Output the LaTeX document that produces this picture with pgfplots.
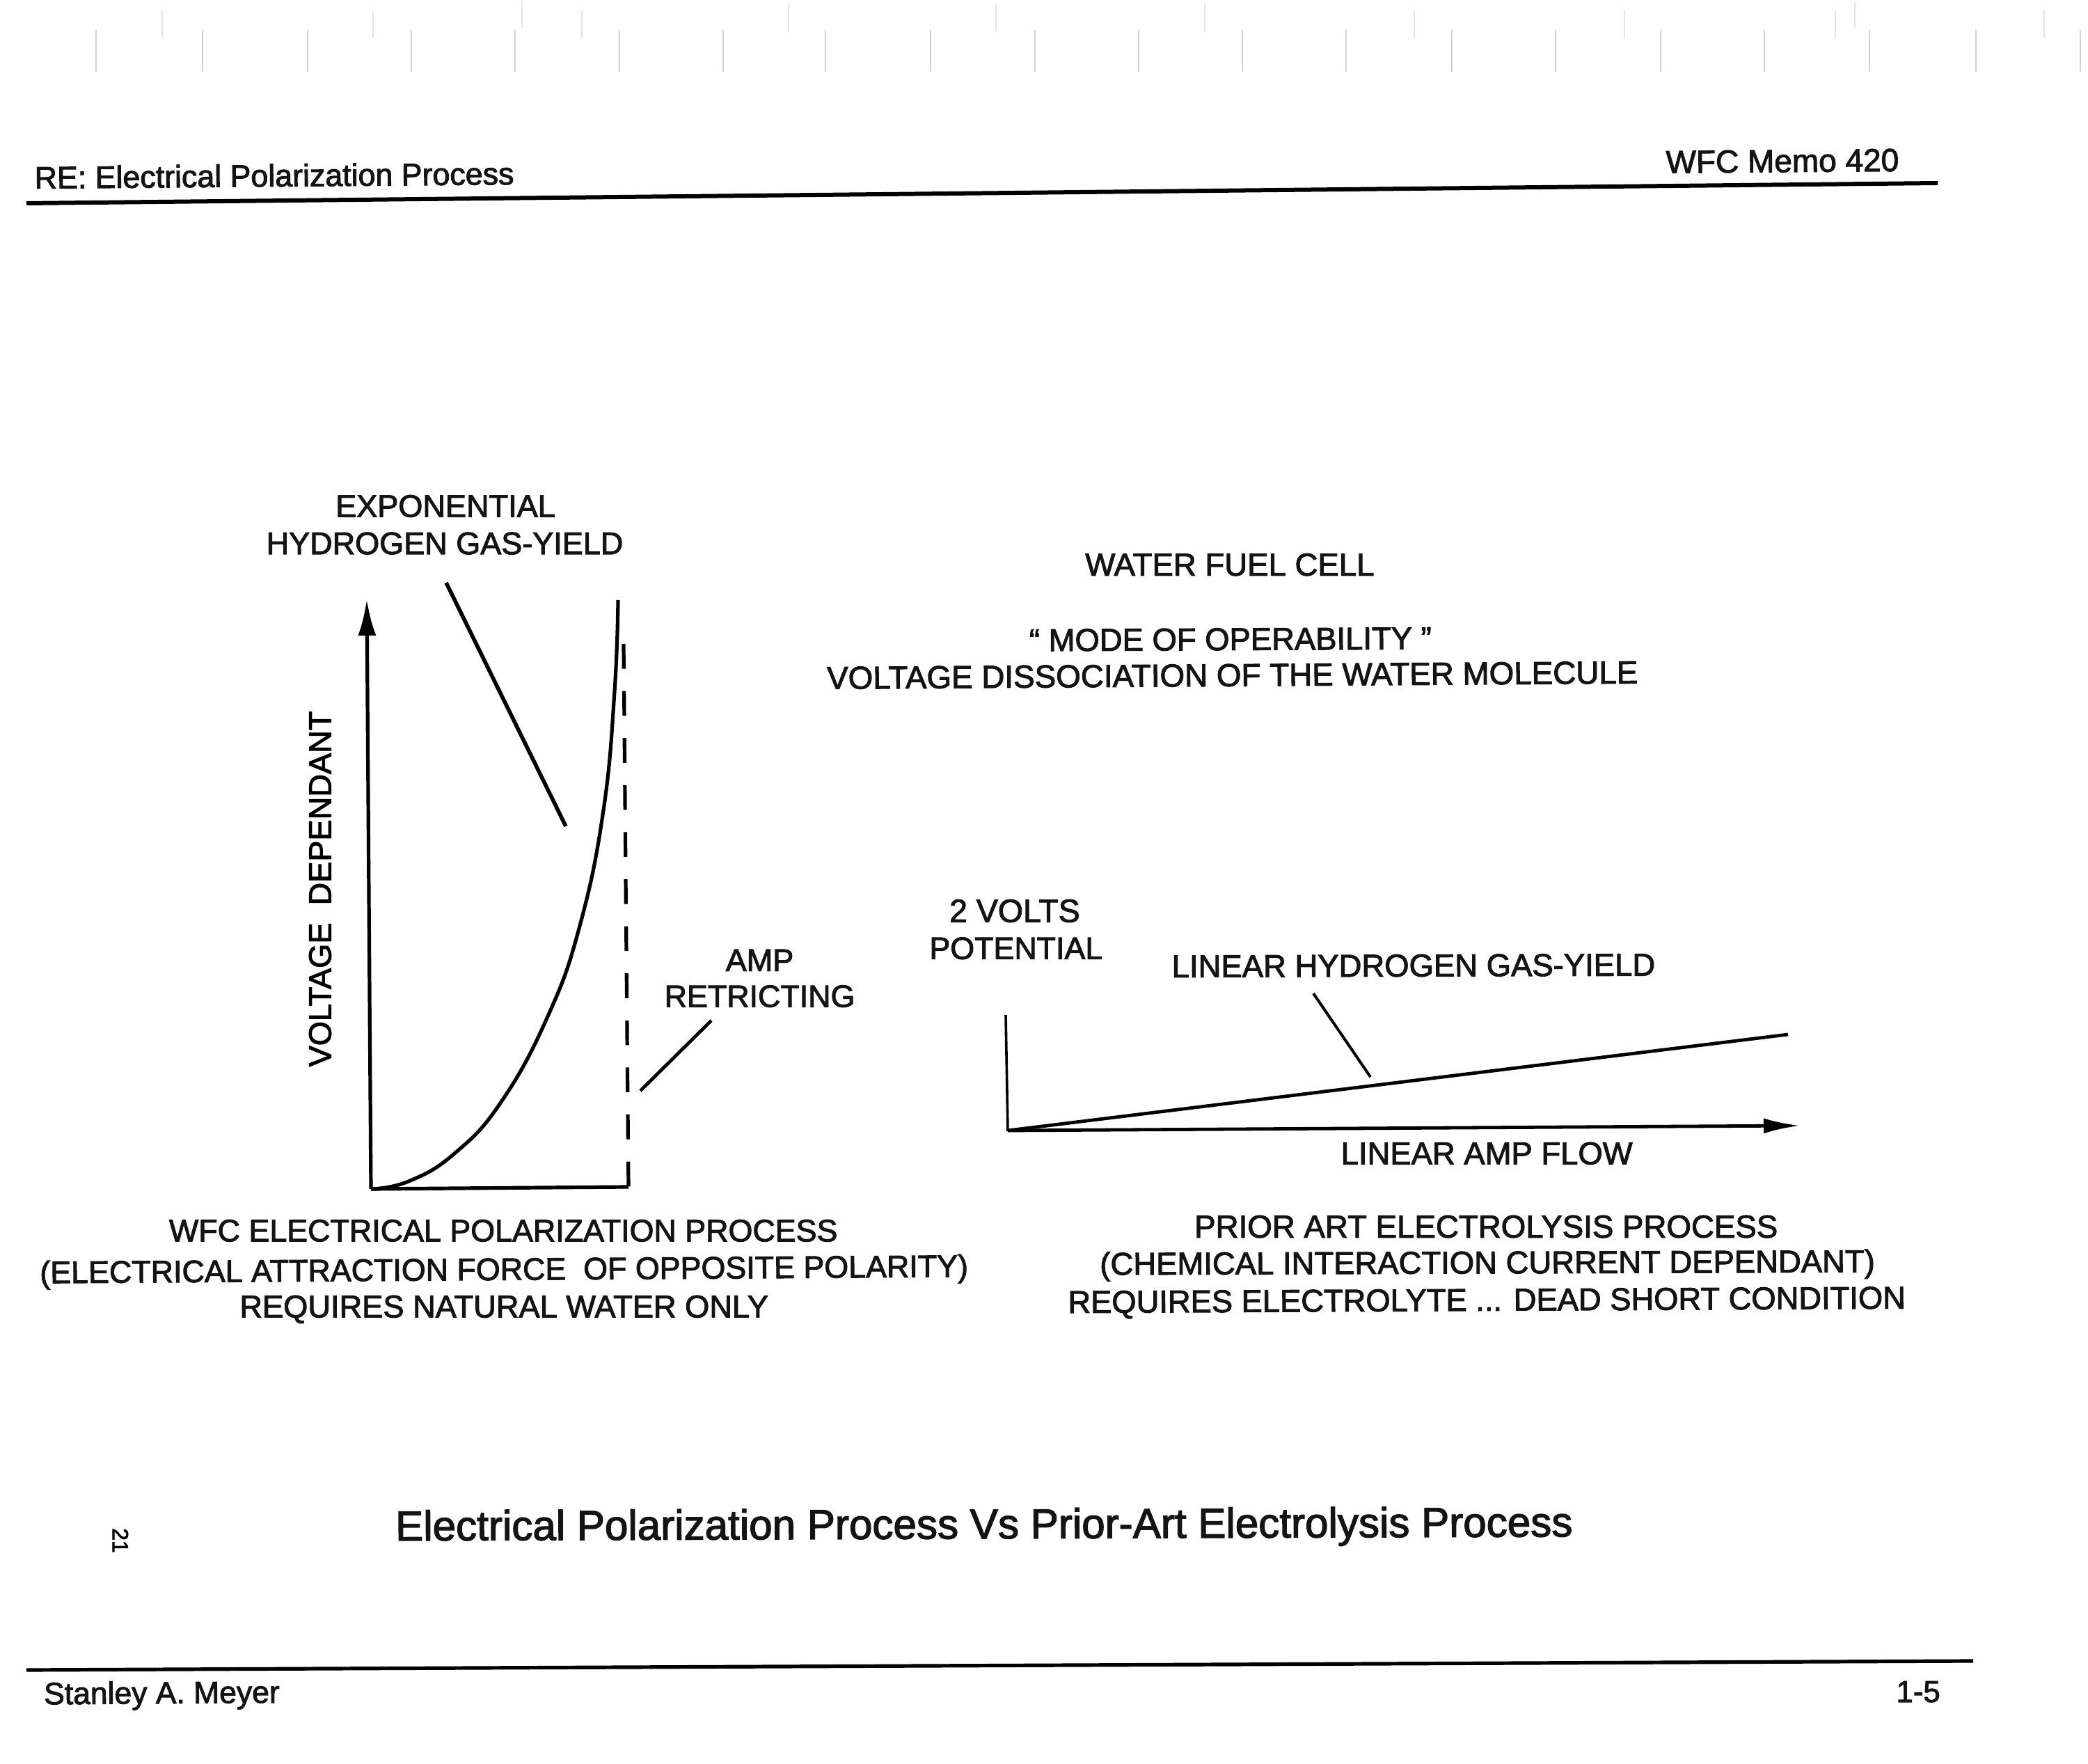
\documentclass[border=0pt]{standalone}
\usepackage{fontspec}
\setmainfont{Liberation Sans}[FakeBold=2.2]
\usepackage{graphicx}
\usepackage{pgfplots}
\pgfplotsset{compat=1.18}
\usetikzlibrary{arrows.meta}
\newcommand{\tx}[5]{%
  \node[inner sep=0pt,outer sep=0pt,anchor=center,rotate=#4,text=black!92] at (axis cs:{(#1+#2)/2*1.9133},{(#3+2)*1.9133}) {\resizebox{\dimexpr 0.478325\dimexpr #2pt-#1pt\relax\relax}{!}{\fontsize{12}{14}\selectfont\vphantom{(}#5}};%
}
\begin{document}
\begin{tikzpicture}
\begin{axis}[
  scale only axis, width=750pt, height=633.5pt,
  xmin=0, xmax=3000, ymin=0, ymax=2534, y dir=reverse,
  hide axis, clip=false, unbounded coords=jump,
  every axis plot/.append style={black, line cap=butt, line join=round}
]
\path (axis cs:0,0) rectangle (axis cs:3000,2534);
% faint scan marks at the top
\addplot[gray!35, line width=0.3pt] coordinates {
 (138,43)(138,103) (nan,nan) (291,43)(291,103) (nan,nan) (442,43)(442,103) (nan,nan)
 (591,43)(591,103) (nan,nan) (740,43)(740,103) (nan,nan) (890,43)(890,103) (nan,nan)
 (1039,43)(1039,103) (nan,nan) (1186,43)(1186,103) (nan,nan) (1337,43)(1337,103) (nan,nan)
 (1487,43)(1487,103) (nan,nan) (1636,43)(1636,103) (nan,nan) (1785,43)(1785,103) (nan,nan)
 (1934,43)(1934,103) (nan,nan) (2086,43)(2086,103) (nan,nan) (2235,43)(2235,103) (nan,nan)
 (2386,43)(2386,103) (nan,nan) (2535,43)(2535,103) (nan,nan) (2686,43)(2686,103) (nan,nan)
 (2839,43)(2839,103) (nan,nan) (2989,43)(2989,103)
};
\addplot[gray!20, line width=0.3pt] coordinates {
 (233,15)(233,55) (nan,nan) (536,15)(536,55) (nan,nan) (750,2)(750,40) (nan,nan)
 (836,15)(836,55) (nan,nan) (1133,5)(1133,45) (nan,nan) (1431,5)(1431,45) (nan,nan)
 (1731,5)(1731,45) (nan,nan) (2032,15)(2032,55) (nan,nan) (2334,15)(2334,55) (nan,nan)
 (2637,15)(2637,55) (nan,nan) (2665,2)(2665,40) (nan,nan) (2937,15)(2937,55)
};
% page rules
\addplot[line width=1.5pt] coordinates {(38,292)(2784,263)};
\addplot[line width=1.3pt] coordinates {(38,2399)(2835,2386)};
% left diagram
\addplot[line width=1.3pt, -{Latex[length=13pt,width=6.5pt]}] coordinates {(533,1708)(527,861)};
\addplot[line width=1.3pt] coordinates {(533,1708)(903,1705)};
\addplot[line width=1.3pt, dash pattern=on 8.9pt off 8pt] coordinates {(896,925)(903,1705)};
\addplot[line width=1.3pt, smooth, tension=0.75] coordinates {
 (533,1708)(587,1697)(653,1657)(720,1583)(787,1460)(833,1330)(867,1164)(883,993)(888,862)};
\addplot[line width=1.4pt] coordinates {(641,837)(813,1187)};
\addplot[line width=1.2pt] coordinates {(1022,1466)(920,1567)};
% right diagram
\addplot[line width=0.9pt] coordinates {(1445,1458)(1448,1625)};
\addplot[line width=1.2pt, -{Latex[length=13pt,width=5.5pt]}] coordinates {(1448,1624)(2586,1617)};
\addplot[line width=1.2pt] coordinates {(1448,1624)(2569,1486)};
\addplot[line width=1.0pt] coordinates {(1887,1427)(1969,1547)};
% texts
\tx{26}{386}{132}{0.5}{RE: Electrical Polarization Process}
\tx{1251}{1426}{121}{0.5}{WFC Memo 420}
\tx{252}{417}{380}{0}{EXPONENTIAL}
\tx{200}{468}{408}{0}{HYDROGEN GAS-YIELD}
\tx{815}{1032}{424}{0}{WATER FUEL CELL}
\tx{773}{1075}{480}{0.3}{“ MODE OF OPERABILITY ”}
\tx{621}{1230}{507}{0.4}{VOLTAGE DISSOCIATION OF THE WATER MOLECULE}
\tx{713}{811}{684}{0}{2 VOLTS}
\tx{698}{828}{712}{0}{POTENTIAL}
\tx{880}{1243}{725}{0.2}{LINEAR HYDROGEN GAS-YIELD}
\tx{545}{596}{721}{0}{AMP}
\tx{499}{642}{748}{0}{RETRICTING}
\tx{1007}{1226}{866}{0}{LINEAR AMP FLOW}
\tx{127}{629}{924}{0}{WFC ELECTRICAL POLARIZATION PROCESS}
\tx{30}{727}{953}{0.4}{(ELECTRICAL ATTRACTION FORCE\ \ OF OPPOSITE POLARITY)}
\tx{180}{577}{981}{0}{REQUIRES NATURAL WATER ONLY}
\tx{897}{1335}{921}{0}{PRIOR ART ELECTROLYSIS PROCESS}
\tx{826}{1408}{948}{0.2}{(CHEMICAL INTERACTION CURRENT DEPENDANT)}
\tx{802}{1431}{976}{0.3}{REQUIRES ELECTROLYTE ... DEAD SHORT CONDITION}
\tx{297}{1181}{1145}{0.2}{Electrical Polarization Process Vs Prior-Art Electrolysis Process}
\tx{33}{210}{1271}{0.4}{Stanley A. Meyer}
\tx{1424}{1457}{1270}{0}{1-5}
\node[rotate=-90,inner sep=0pt,font=\fontsize{8}{9}\selectfont] at (axis cs:173,2213) {21};
\node[rotate=90,inner sep=0pt] at (axis cs:460,1277) {\resizebox{127.7pt}{!}{\fontsize{12}{14}\selectfont VOLTAGE\ \ DEPENDANT}};
\end{axis}
\end{tikzpicture}
\end{document}
